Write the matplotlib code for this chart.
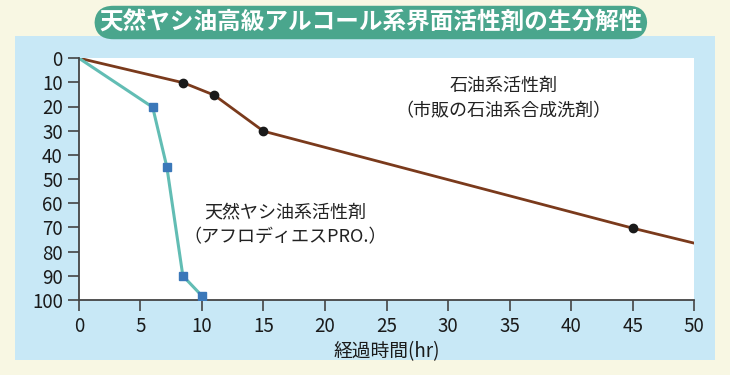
import matplotlib.pyplot as plt
from matplotlib.patches import FancyBboxPatch

plt.rcParams['font.family'] = ['Noto Sans CJK JP', 'DejaVu Sans']

# petroleum-based surfactant (black dots)
oil_x = [0, 8.5, 11, 15, 45, 50]
oil_y = [0, 10.2, 15.3, 30.2, 70.3, 76.5]
# natural coconut oil surfactant (blue squares)
coco_x = [0, 6.0, 7.15, 8.45, 10.0]
coco_y = [0, 20.3, 45, 90, 98.3]

xticks = list(range(0, 51, 5))
yticks = list(range(0, 101, 10))

fig = plt.figure(figsize=(7.3, 3.75), dpi=100)
fig.patch.set_facecolor('#f8f7e3')

# light blue panel behind the chart
panel = FancyBboxPatch((0.02, 0.04), 0.96, 0.865, boxstyle='square,pad=0',
                       transform=fig.transFigure, facecolor='#c8e8f6',
                       edgecolor='none', zorder=-5)
fig.patches.append(panel)

ax = fig.add_axes([0.108, 0.2, 0.843, 0.645])
ax.set_zorder(2)
ax.set_facecolor('white')

ax.plot(oil_x, oil_y, color='#7a3a1c', lw=2, zorder=2)
ax.plot(oil_x[1:-1], oil_y[1:-1], 'o', color='#1a1a1a', ms=6, zorder=3)
ax.plot(coco_x, coco_y, color='#62bdb4', lw=2.2, zorder=2)
ax.plot(coco_x[1:], coco_y[1:], 's', color='#3b78b9', ms=6, zorder=3)

ax.set_xlim(0, 50)
ax.set_ylim(100, 0)
ax.set_xticks(xticks)
ax.set_yticks(yticks)
ax.tick_params(direction='out', length=8, width=1.2, color='#444444',
               labelsize=13.5, labelcolor='#1a1a1a')
for s in ['top', 'right']:
    ax.spines[s].set_visible(False)
for s in ['left', 'bottom']:
    ax.spines[s].set_color('#444444')
    ax.spines[s].set_linewidth(1.3)
ax.set_xlabel('経過時間(hr)', fontsize=13.5, color='#1a1a1a', labelpad=3)

ax.text(34.5, 11.5, '石油系活性剤', ha='center', va='center', fontsize=13,
        color='#222222')
ax.text(34.5, 22, '（市販の石油系合成洗剤）', ha='center', va='center', fontsize=13,
        color='#222222')
ax.text(16.8, 64, '天然ヤシ油系活性剤', ha='center', va='center', fontsize=13,
        color='#222222')
ax.text(16.8, 74, '（アフロディエスPRO.）', ha='center', va='center', fontsize=13,
        color='#222222')

fig.text(0.508, 0.94, '天然ヤシ油高級アルコール系界面活性剤の生分解性', ha='center',
         va='center', fontsize=17, fontweight='bold', color='white', zorder=5,
         bbox=dict(boxstyle='round,pad=0.2,rounding_size=0.8',
                   facecolor='#4aa68d', edgecolor='none'))

fig.savefig('out.png', dpi=100, facecolor=fig.get_facecolor())
